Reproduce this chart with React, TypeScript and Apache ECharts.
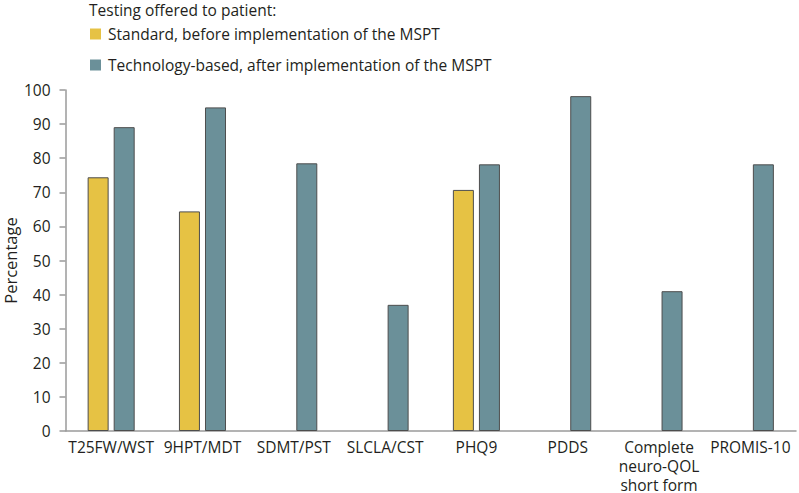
import React, { useEffect, useRef } from "react";
import * as echarts from "echarts";

const categories = [
  "T25FW/WST",
  "9HPT/MDT",
  "SDMT/PST",
  "SLCLA/CST",
  "PHQ9",
  "PDDS",
  "Complete\nneuro-QOL\nshort form",
  "PROMIS-10",
];
const standardValues: (number | null)[] = [74.4, 64.4, null, null, 70.7, null, null, null];
const technologyValues: number[] = [89.1, 94.9, 78.5, 37, 78.2, 98.2, 41, 78.2];
const yTicks = { min: 0, max: 100, interval: 10 };
const legendTitle = "Testing offered to patient:";
const seriesNames = [
  "Standard, before implementation of the MSPT",
  "Technology-based, after implementation of the MSPT",
];

const FONT = "Open Sans";
const TEXT = "#231f20";
const AXIS = "#9a9a9a";
const FS = 15.5;

export default function App() {
  const ref = useRef<HTMLDivElement>(null);
  useEffect(() => {
    if (!ref.current) return;
    const chart = echarts.init(ref.current, null, { renderer: "svg" });
    chart.setOption({
      animation: false,
      backgroundColor: "#ffffff",
      textStyle: { fontFamily: FONT, color: TEXT },
      graphic: [
        {
          type: "text",
          left: 89,
          top: 2,
          style: { text: legendTitle, fontFamily: FONT, fontSize: FS, fill: TEXT },
        },
      ],
      legend: {
        orient: "vertical",
        left: 85,
        top: 21,
        itemWidth: 11,
        itemHeight: 11,
        itemGap: 15,
        icon: "rect",
        textStyle: { fontFamily: FONT, fontSize: FS, color: TEXT, padding: [0, 0, 0, 2] },
        data: seriesNames.map((n) => ({ name: n, itemStyle: { borderWidth: 0 } })),
      },
      grid: {
        left: 65.5,
        right: 3,
        top: 90,
        bottom: 62,
        containLabel: false,
        outerBoundsMode: "none",
      },
      xAxis: {
        type: "category",
        data: categories,
        axisLine: { lineStyle: { color: AXIS, width: 1.5 } },
        axisTick: { alignWithLabel: true, length: 6, lineStyle: { color: AXIS, width: 1.5 } },
        axisLabel: {
          interval: 0,
          fontFamily: FONT,
          fontSize: FS,
          color: TEXT,
          margin: 6,
          lineHeight: 19,
        },
      },
      yAxis: {
        type: "value",
        min: yTicks.min,
        max: yTicks.max,
        interval: yTicks.interval,
        name: "Percentage",
        nameLocation: "middle",
        nameGap: 47,
        nameMoveOverlap: false,
        nameTextStyle: { fontFamily: FONT, fontSize: 16.5, color: TEXT },
        axisLine: { show: true, lineStyle: { color: AXIS, width: 1.5 } },
        axisTick: { show: true, length: 6, lineStyle: { color: AXIS, width: 1.5 } },
        axisLabel: { fontFamily: FONT, fontSize: FS, color: TEXT, margin: 15 },
        splitLine: { show: false },
      },
      series: [
        {
          name: seriesNames[0],
          type: "bar",
          data: standardValues,
          barWidth: 21,
          barGap: "24%",
          itemStyle: { color: "#e6c244", borderColor: "#4d4d4d", borderWidth: 1 },
        },
        {
          name: seriesNames[1],
          type: "bar",
          data: technologyValues,
          barWidth: 21,
          itemStyle: { color: "#6b9099", borderColor: "#4d4d4d", borderWidth: 1 },
        },
      ],
    });
    return () => chart.dispose();
  }, []);
  return (
    <div
      ref={ref}
      style={{ position: "fixed", left: 0, top: 0, width: 799, height: 493 }}
    />
  );
}
